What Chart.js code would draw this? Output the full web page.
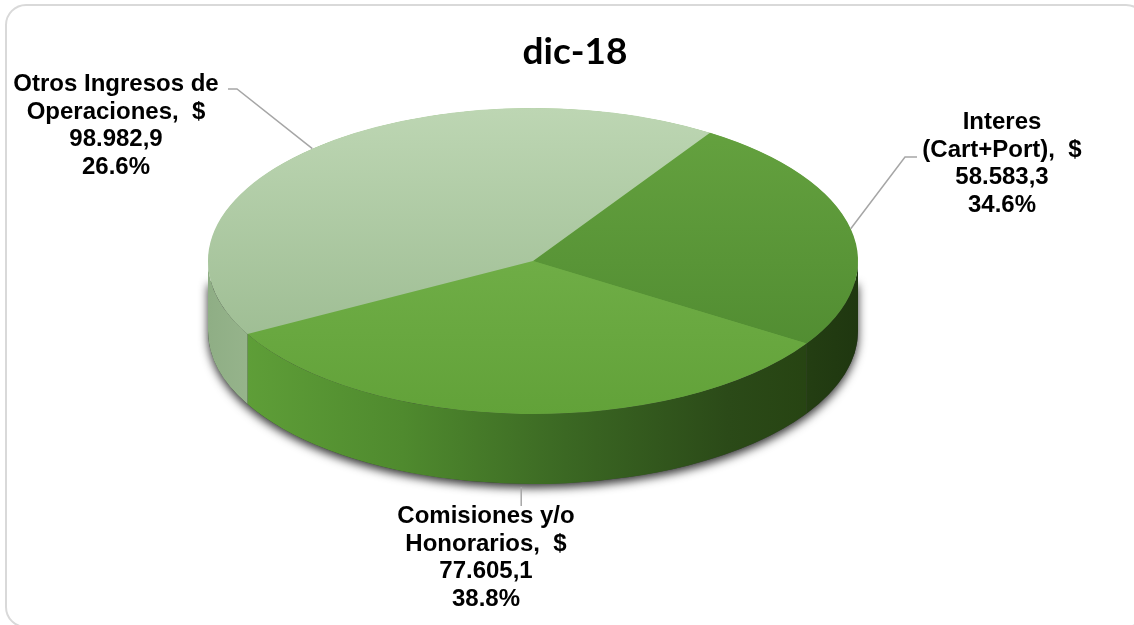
<!DOCTYPE html>
<html>
<head>
<meta charset="utf-8">
<title>dic-18</title>
<script src="https://cdn.jsdelivr.net/npm/chart.js@4.4.1/dist/chart.umd.min.js"></script>
<style>
html, body { margin: 0; padding: 0; background: #fff; }
#wrap { position: relative; width: 1134px; height: 625px; }
</style>
</head>
<body>
<div id="wrap"><canvas id="pie" width="1134" height="625"></canvas></div>
<script>
// Ingresos dic-18
const title = "dic-18";
const categories = [["Interes", "(Cart+Port)"], ["Comisiones y/o", "Honorarios"], ["Otros Ingresos de", "Operaciones"]];
const amounts = [58583.3, 77605.1, 98982.9];
const shares = ["34.6%", "38.8%", "26.6%"];

// top face (upper -> lower) and wall (left -> right) colours per slice
const faceColors = [["#66a340", "#4c872e"], ["#7cb853", "#62a239"], ["#bdd6b3", "#95b68a"]];
const wallColors = [
  [[0, "#2f521a"], [0.8, "#2a4a17"], [0.93, "#233d12"], [1, "#1f3710"]],
  [[0, "#62a33a"], [0.3, "#4f8a2e"], [0.55, "#3b6823"], [0.8, "#2b4a18"], [1, "#24400f"]],
  [[0, "#8fae85"], [0.1, "#9ab78f"], [1, "#9ab78f"]]
];

// ellipse the pie is projected onto, and thickness of the disc
const CX = 533, CY = 261, RX = 325, RY = 153, DEPTH = 70;

// label blocks: centre x, first baseline, leader path after the anchor point
const labelPos = [
  {x: 1002, y: 129, path: [[905, 157], [917, 157]]},
  {x: 486, y: 523, path: [[null, 506]]},
  {x: 116, y: 91, path: [[237, 89], [228, 89]]}
];
const LINE_H = 27.5;

function fmt(v) {
  const [i, d] = v.toFixed(1).split(".");
  return i.replace(/\B(?=(\d{3})+(?!\d))/g, ".") + "," + d;
}

function faceGradient(c) {
  const a = c.chart.chartArea;
  const cols = faceColors[c.dataIndex || 0];
  if (!a || c.dataIndex === undefined) return cols[0];
  const r = Math.min(a.right - a.left, a.bottom - a.top) / 2;
  const cy = (a.top + a.bottom) / 2;
  const g = c.chart.ctx.createLinearGradient(0, cy - r, 0, cy + r);
  g.addColorStop(0, cols[0]);
  g.addColorStop(1, cols[1]);
  return g;
}

// white card with rounded grey border
const frame = {
  id: "frame",
  beforeDraw(chart) {
    const ctx = chart.ctx;
    ctx.save();
    ctx.fillStyle = "#fff";
    ctx.fillRect(0, 0, chart.width, chart.height);
    ctx.strokeStyle = "#d9d9d9";
    ctx.lineWidth = 2;
    ctx.beginPath();
    ctx.roundRect(6, 5, 1140, 622, 20);
    ctx.stroke();
    ctx.restore();
  }
};

// disc walls + shadow, then squash the circle into the ellipse for the top faces
const disc = {
  id: "disc",
  beforeDatasetsDraw(chart) {
    const ctx = chart.ctx;
    const arcs = chart.getDatasetMeta(0).data;

    ctx.save();
    ctx.shadowColor = "rgba(0,0,0,0.8)";
    ctx.shadowBlur = 10;
    ctx.shadowOffsetY = 4;
    ctx.fillStyle = "#3a3a3a";
    ctx.beginPath();
    ctx.moveTo(CX - RX, CY + 20);
    ctx.lineTo(CX - RX, CY + DEPTH);
    ctx.ellipse(CX, CY + DEPTH, RX, RY, 0, Math.PI, 0, true);
    ctx.lineTo(CX + RX, CY + 20);
    ctx.closePath();
    ctx.fill();
    ctx.restore();

    arcs.forEach((arc, i) => {
      let {startAngle: s, endAngle: e} = arc.getProps(["startAngle", "endAngle"], true);
      const k = Math.floor(s / (2 * Math.PI));
      s -= k * 2 * Math.PI; e -= k * 2 * Math.PI;
      const g = ctx.createLinearGradient(CX - RX, 0, CX + RX, 0);
      wallColors[i].forEach(st => g.addColorStop(st[0], st[1]));
      [[0, Math.PI], [2 * Math.PI, 3 * Math.PI]].forEach(([lo, hi]) => {
        const a = Math.max(s, lo), b = Math.min(e, hi);
        if (b <= a) return;
        ctx.beginPath();
        ctx.ellipse(CX, CY, RX, RY, 0, a, b, false);
        ctx.lineTo(CX + RX * Math.cos(b), CY + DEPTH + RY * Math.sin(b));
        ctx.ellipse(CX, CY + DEPTH, RX, RY, 0, b, a, true);
        ctx.closePath();
        ctx.fillStyle = g;
        ctx.fill();
      });
    });

    const {x, y, outerRadius} = arcs[0].getProps(["x", "y", "outerRadius"], true);
    ctx.save();
    ctx.translate(CX, CY);
    ctx.scale(RX / outerRadius, RY / outerRadius);
    ctx.translate(-x, -y);
    // base fill so no light seams show between slices
    ctx.fillStyle = "#6aa843";
    ctx.beginPath();
    ctx.arc(x, y, outerRadius - 0.5, 0, 2 * Math.PI);
    ctx.fill();
  },
  afterDatasetsDraw(chart) {
    chart.ctx.restore();
  }
};

// data labels with leader lines
const sliceLabels = {
  id: "sliceLabels",
  afterDatasetsDraw(chart) {
    const ctx = chart.ctx;
    const arcs = chart.getDatasetMeta(0).data;
    ctx.save();
    arcs.forEach((arc, i) => {
      const {startAngle, endAngle} = arc.getProps(["startAngle", "endAngle"], true);
      const mid = (startAngle + endAngle) / 2;
      let ax = CX + RX * Math.cos(mid);
      let ay = CY + RY * Math.sin(mid);
      if (Math.sin(mid) > 0.3) ay += DEPTH + 3;
      const pos = labelPos[i];
      ctx.strokeStyle = "#a6a6a6";
      ctx.lineWidth = 1.5;
      ctx.beginPath();
      ctx.moveTo(ax, ay);
      pos.path.forEach(p => ctx.lineTo(p[0] === null ? ax : p[0], p[1]));
      ctx.stroke();

      const lines = categories[i].slice();
      lines[lines.length - 1] += ",  $";
      lines.push(fmt(amounts[i]), shares[i]);
      ctx.fillStyle = "#000";
      ctx.font = 'bold 24px "Liberation Sans", Arial, sans-serif';
      ctx.textAlign = "center";
      ctx.textBaseline = "alphabetic";
      lines.forEach((t, j) => ctx.fillText(t, pos.x, pos.y + j * LINE_H));
    });
    ctx.restore();
  }
};

new Chart(document.getElementById("pie"), {
  type: "pie",
  data: {
    labels: categories.map(l => l.join(" ")),
    datasets: [{
      data: amounts,
      backgroundColor: faceGradient,
      borderWidth: 0,
      rotation: 33,
      clip: false
    }]
  },
  options: {
    responsive: false,
    animation: false,
    events: [],
    rotation: 33,
    layout: {padding: {left: 16, top: 0, bottom: 20}},
    plugins: {
      legend: {display: false},
      tooltip: {enabled: false},
      title: {
        display: true,
        text: title,
        color: "#000",
        font: {family: "Lato", size: 37, weight: "bold"},
        padding: {top: 30, bottom: 10}
      }
    }
  },
  plugins: [frame, disc, sliceLabels]
});
</script>
</body>
</html>
